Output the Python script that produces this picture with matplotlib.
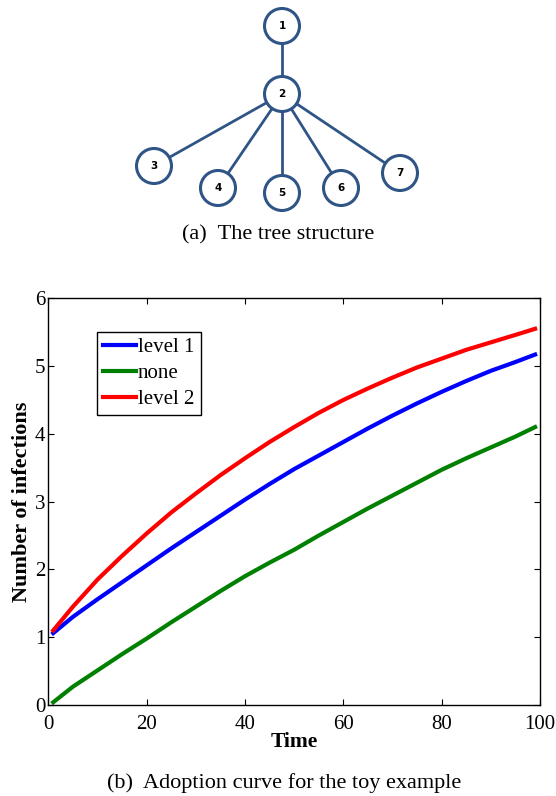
import matplotlib.pyplot as plt
from matplotlib.patches import Circle

plt.rcParams['font.family'] = ['Liberation Serif', 'DejaVu Serif']
plt.rcParams['mathtext.fontset'] = 'stix'

# ---- tree: node labels, parent links, and layout (px in the top panel)
node_ids = ['1', '2', '3', '4', '5', '6', '7']
edges = [('1', '2'), ('2', '3'), ('2', '4'), ('2', '5'), ('2', '6'), ('2', '7')]
node_pos = {'1': (282, 26), '2': (282, 94), '3': (154, 166), '4': (218, 188),
            '5': (282, 193), '6': (341, 188), '7': (400, 173)}

# ---- adoption curves
time = [1, 5, 10, 15, 20, 25, 30, 35, 40, 45, 50, 55, 60, 65, 70, 75, 80, 85, 90, 95, 99]
level1 = [1.06, 1.30, 1.56, 1.81, 2.06, 2.31, 2.55, 2.79, 3.03, 3.26, 3.48,
          3.68, 3.88, 4.08, 4.27, 4.45, 4.62, 4.78, 4.93, 5.06, 5.17]
none = [0.04, 0.27, 0.51, 0.75, 0.98, 1.22, 1.45, 1.68, 1.90, 2.10, 2.29,
        2.50, 2.70, 2.90, 3.09, 3.28, 3.47, 3.64, 3.80, 3.96, 4.10]
level2 = [1.10, 1.45, 1.85, 2.20, 2.53, 2.84, 3.12, 3.39, 3.64, 3.88, 4.10,
          4.31, 4.50, 4.67, 4.83, 4.98, 5.11, 5.24, 5.35, 5.46, 5.55]

W, H = 556, 796
fig = plt.figure(figsize=(W / 100, H / 100), dpi=100)

# tree panel drawn in pixel units
top_h = 250
axt = fig.add_axes([0, 1 - top_h / H, 1, top_h / H])
axt.set_xlim(0, W)
axt.set_ylim(top_h, 0)
axt.axis('off')
node_color = '#2f5486'
for a, b in edges:
    (x1, y1), (x2, y2) = node_pos[a], node_pos[b]
    axt.plot([x1, x2], [y1, y2], color=node_color, lw=2.0, zorder=1)
for n in node_ids:
    x, y = node_pos[n]
    axt.add_patch(Circle((x, y), 17.5, facecolor='white', edgecolor=node_color,
                         lw=2.2, zorder=2))
    axt.text(x, y, n, ha='center', va='center', fontsize=7.5, fontweight='bold',
             family='DejaVu Sans', zorder=3)
axt.text(278, 235, '(a)  The tree structure', ha='center', va='center', fontsize=16)

# adoption curve panel
ax = fig.add_axes([48.3 / W, 1 - 705 / H, (540 - 48.3) / W, (705 - 298.3) / H])
ax.plot(time, level1, color='#0000ff', lw=3, label='level 1')
ax.plot(time, none, color='#008000', lw=3, label='none')
ax.plot(time, level2, color='#ff0000', lw=3, label='level 2')
ax.set_xlim(0, 100)
ax.set_ylim(0, 6)
ax.set_xticks([0, 20, 40, 60, 80, 100])
ax.set_yticks([0, 1, 2, 3, 4, 5, 6])
ax.tick_params(direction='in', top=True, right=True, length=4, width=0.8,
               labelsize=15)
ax.tick_params(axis='x', pad=7)
ax.tick_params(axis='y', pad=2)
for s in ax.spines.values():
    s.set_linewidth(1.0)
ax.set_xlabel('Time', fontsize=15.5, fontweight='bold', labelpad=-1)
ax.set_ylabel('Number of infections', fontsize=16, fontweight='bold', labelpad=2)

leg = ax.legend(loc='upper left', bbox_to_anchor=(0.099, 0.918), fontsize=15,
                fancybox=False, framealpha=1, edgecolor='black', borderpad=0.3,
                handlelength=1.55, handletextpad=0.12, labelspacing=0.3,
                borderaxespad=0)
leg.get_frame().set_linewidth(1.0)

fig.text(284 / W, 1 - 783 / H, '(b)  Adoption curve for the toy example',
         ha='center', va='center', fontsize=16)

fig.savefig('out.png', dpi=100)
